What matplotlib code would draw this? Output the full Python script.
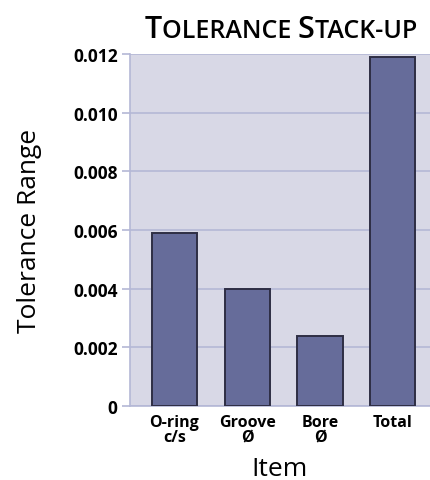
import matplotlib
matplotlib.use("Agg")
import matplotlib.pyplot as plt

plt.rcParams['font.family'] = ['Open Sans', 'DejaVu Sans']

# Data
items = ['O-ring\nc/s', 'Groove\nØ', 'Bore\nØ', 'Total']
tolerance = [0.0059, 0.0040, 0.0024, 0.0119]
yticks = [0, 0.002, 0.004, 0.006, 0.008, 0.010, 0.012]
ytick_labels = ['0', '0.002', '0.004', '0.006', '0.008', '0.010', '0.012']

bg = '#d8d8e6'
grid_col = '#b4b8d6'
bar_col = '#666c9a'

fig = plt.figure(figsize=(4.3, 4.81), dpi=100)
ax = fig.add_axes([130 / 430, 74 / 481, 300 / 430, 352 / 481])
ax.set_facecolor(bg)

x = range(len(items))
ax.bar(x, tolerance, width=0.62, color=bar_col, edgecolor='#2e2e44',
       linewidth=1.4, zorder=3)

ax.set_xlim(-0.61, 3.51)
ax.set_ylim(0, 0.012)
ax.set_yticks(yticks)
ax.set_yticklabels(ytick_labels, fontsize=12.5, fontweight='bold')
ax.set_xticks(list(x))
ax.set_xticklabels(items, fontsize=11.5, fontweight='bold', linespacing=0.85)

ax.yaxis.grid(True, color=grid_col, linewidth=1.2, zorder=0)
ax.tick_params(axis='y', length=6, color=grid_col, width=1.2, pad=3)
ax.tick_params(axis='x', length=0, pad=6)
for side in ['top', 'right']:
    ax.spines[side].set_visible(False)
ax.spines['left'].set_color(grid_col)
ax.spines['bottom'].set_color(grid_col)
ax.spines['left'].set_linewidth(1.2)
ax.spines['bottom'].set_linewidth(1.2)

ax.set_ylabel('Tolerance Range', fontsize=19, labelpad=22)
ax.set_xlabel('Item', fontsize=19, labelpad=8)

# small-caps style title
title = 'Tolerance Stack-up'
pieces = []
for word in title.split(' '):
    pieces.append((word[0].upper(), 22))
    pieces.append((word[1:].upper() + ' ', 18))
renderer = fig.canvas.get_renderer()
texts = []
for s, size in pieces:
    t = fig.text(0, 1 - 38 / 481, s, fontsize=size, va='baseline', ha='left',
                 fontweight='semibold')
    texts.append(t)
widths = [t.get_window_extent(renderer).width for t in texts]
total = sum(widths)
xpos = 284 - total / 2
for t, w in zip(texts, widths):
    t.set_x(xpos / 430)
    xpos += w

fig.savefig('out.png', dpi=100)
